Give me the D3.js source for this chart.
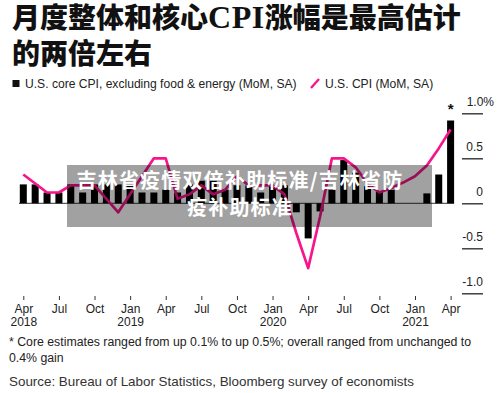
<!DOCTYPE html>
<meta charset="UTF-8">
<style>
  body { margin: 0; background: #fff; }
  svg { display: block; font-family: "Liberation Sans", Arial, sans-serif; }
  .title { font-family: "Liberation Serif", "Noto Sans CJK SC", serif; font-size: 28px; font-weight: 900; fill: #111; }
  .legend text { font-size: 12.1px; fill: #222; }
  .note { font-size: 12.3px; fill: #222; }
  .source { font-size: 13.4px; fill: #333; }
  .axis text { font-size: 12px; fill: #222; font-family: "Liberation Sans", Arial, sans-serif; }
  .axis line { stroke: #333; }
  .axis path { display: none; }
  .cpi { fill: none; stroke: #f7158c; stroke-width: 2.7px; stroke-linejoin: round; }
  .overlay-text { font-family: "Noto Sans CJK SC", sans-serif; font-size: 20px; font-weight: 700; fill: #fff; letter-spacing: 1.2px; }
</style>
<body>
<script src="https://d3js.org/d3.v7.min.js"></script>
<script>

// months, Apr 2018 .. Apr 2021
var months = [
  "2018-04","2018-05","2018-06","2018-07","2018-08","2018-09","2018-10","2018-11","2018-12",
  "2019-01","2019-02","2019-03","2019-04","2019-05","2019-06","2019-07","2019-08","2019-09","2019-10","2019-11","2019-12",
  "2020-01","2020-02","2020-03","2020-04","2020-05","2020-06","2020-07","2020-08","2020-09","2020-10","2020-11","2020-12",
  "2021-01","2021-02","2021-03","2021-04"
];

// U.S. core CPI MoM, %
var coreCPI = [
  0.21, 0.21, 0.12, 0.12, 0.21, 0.12, 0.21, 0.21, 0.21,
  0.21, 0.12, 0.12, 0.15, 0.12, 0.21, 0.25, 0.25, 0.15, 0.20, 0.20, 0.12,
  0.20, 0.20, -0.10, -0.39, -0.09, 0.15, 0.48, 0.34, 0.19, 0.13, 0.15, 0.00,
  0.00, 0.11, 0.32, 0.92
];

// U.S. CPI MoM, %
var headlineCPI = [
  0.32, 0.22, 0.12, 0.12, 0.20, 0.20, 0.20, 0.05, -0.10,
  0.10, 0.30, 0.50, 0.50, 0.05, 0.10, 0.20, 0.10, 0.15, 0.30, 0.20, 0.20,
  0.20, 0.10, -0.33, -0.72, -0.15, 0.50, 0.50, 0.40, 0.22, 0.12, 0.17, 0.23,
  0.30, 0.42, 0.61, 0.82
];

var xTicks = ["2018-04","2018-07","2018-10","2019-01","2019-04","2019-07","2019-10",
              "2020-01","2020-04","2020-07","2020-10","2021-01","2021-04"];
var xTickMonth = ["Apr","Jul","Oct","Jan","Apr","Jul","Oct","Jan","Apr","Jul","Oct","Jan","Apr"];
var xTickYear  = ["2018","","","2019","","","","2020","","","","2021",""];

var yTicks = [-1, -0.5, 0, 0.5, 1];
var yTickLabels = ["-1.0", "-0.5", "0", "0.5", "1.0%"];

var W = 500, H = 393;

var svg = d3.select("body").append("svg")
    .attr("width", W)
    .attr("height", H);

// title
var t1 = svg.append("text").attr("class", "title").attr("x", 12).attr("y", 28);
t1.append("tspan").text("月度整体和核心");
t1.append("tspan").attr("font-size", 32).attr("letter-spacing", 0.5).text("CPI");
t1.append("tspan").text("涨幅是最高估计");
svg.append("text").attr("class", "title").attr("x", 12).attr("y", 64)
    .text("的两倍左右");

// legend
var legend = svg.append("g").attr("class", "legend");
legend.append("rect").attr("x", 12.5).attr("y", 80).attr("width", 7).attr("height", 7).attr("fill", "#111");
legend.append("text").attr("x", 25).attr("y", 87.5).text("U.S. core CPI, excluding food & energy (MoM, SA)");
legend.append("line").attr("x1", 311).attr("y1", 88).attr("x2", 319).attr("y2", 79)
    .attr("stroke", "#f7158c").attr("stroke-width", 2.4);
legend.append("text").attr("x", 325).attr("y", 87.5).text("U.S. CPI (MoM, SA)");

// scales
var x = d3.scalePoint().domain(months).range([23.3, 450.6]);
var y = d3.scaleLinear().domain([-1, 1]).range([293.3, 113.3]);
var barW = 7;

// zero line
svg.append("line")
    .attr("x1", 19).attr("x2", x(months[months.length - 1]) + barW / 2)
    .attr("y1", y(0)).attr("y2", y(0))
    .attr("stroke", "#333").attr("stroke-width", 1);

// bars
svg.selectAll("rect.bar")
    .data(months)
  .enter().append("rect")
    .attr("class", "bar")
    .attr("x", function(d) { return x(d) - barW / 2; })
    .attr("width", barW)
    .attr("y", function(d, i) { return y(Math.max(0, coreCPI[i])); })
    .attr("height", function(d, i) { return Math.abs(y(coreCPI[i]) - y(0)); })
    .attr("fill", "#000");

// CPI line
var line = d3.line()
    .x(function(d) { return x(d); })
    .y(function(d, i) { return y(headlineCPI[i]); });

svg.append("path").datum(months).attr("class", "cpi").attr("d", line);

// star over latest estimate
svg.append("text")
    .attr("x", x("2021-04")).attr("y", 114)
    .attr("text-anchor", "middle")
    .attr("font-size", 15).attr("font-weight", "bold").attr("fill", "#111")
    .text("*");

// x axis
var xAxis = svg.append("g")
    .attr("class", "axis")
    .attr("transform", "translate(0,296)")
    .call(d3.axisBottom(x).tickValues(xTicks).tickSize(4).tickPadding(4)
      .tickFormat(function(d, i) { return xTickMonth[i]; }));

xAxis.selectAll(".tick text").each(function(d, i) {
  var t = d3.select(this);
  t.attr("dy", "0.75em");
  if (xTickYear[i]) {
    t.append("tspan").attr("x", 0).attr("dy", "1.1em").text(xTickYear[i]);
  }
});

// y axis on the right, labels above the tick lines
var yAxis = svg.append("g")
    .attr("class", "axis")
    .attr("transform", "translate(483,0)")
    .call(d3.axisLeft(y).tickValues(yTicks).tickSize(21)
      .tickFormat(function(d, i) { return yTickLabels[i]; }));

yAxis.selectAll(".tick line").attr("stroke-width", 1.4);
yAxis.selectAll(".tick text")
    .attr("x", function(d) { return d === 1 ? 11 : 0; })
    .attr("dy", -8)
    .attr("text-anchor", "end");

// footnotes
svg.append("text").attr("class", "note").attr("x", 9).attr("y", 346)
    .text("* Core estimates ranged from up 0.1% to up 0.5%; overall ranged from unchanged to");
svg.append("text").attr("class", "note").attr("x", 9).attr("y", 361.5)
    .text("0.4% gain");
svg.append("text").attr("class", "source").attr("x", 9).attr("y", 386)
    .text("Source: Bureau of Labor Statistics, Bloomberg survey of economists");

// grey banner on top
svg.append("rect")
    .attr("x", 67).attr("y", 165).attr("width", 365).attr("height", 62)
    .attr("fill", "rgba(0,0,0,0.37)");
svg.append("text").attr("class", "overlay-text").attr("x", 240).attr("y", 187.5)
    .attr("text-anchor", "middle").text("吉林省疫情双倍补助标准/吉林省防");
svg.append("text").attr("class", "overlay-text").attr("x", 240).attr("y", 214.5)
    .attr("text-anchor", "middle").text("疫补助标准");

</script>
</body>
